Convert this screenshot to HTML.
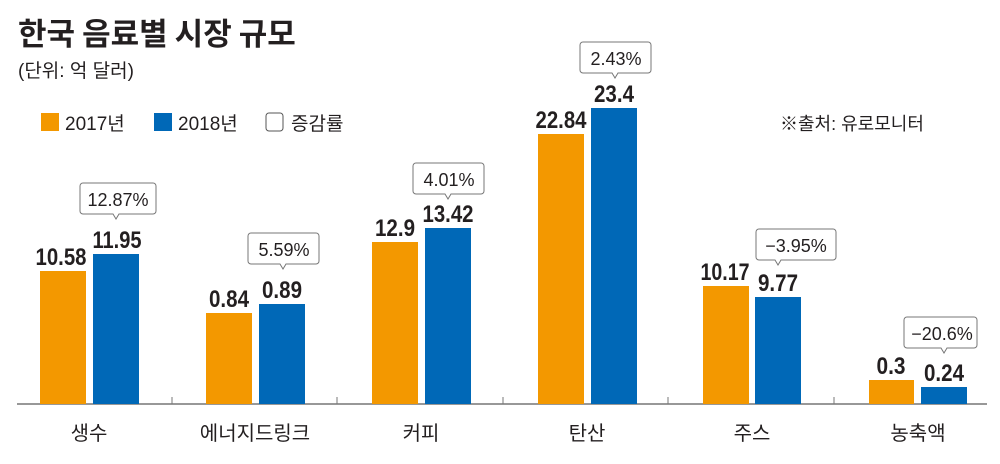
<!DOCTYPE html>
<html><head><meta charset="utf-8"><style>
body{margin:0;background:#fff;}
svg text{font-family:"Liberation Sans","Noto Sans CJK KR",sans-serif;}
.v{font-weight:bold;font-size:24px;fill:#231f20;text-anchor:middle;}
.p{font-size:18px;fill:#231f20;text-anchor:middle;}
.c{font-size:20px;fill:#231f20;text-anchor:middle;}
</style></head><body>
<svg width="1000" height="459" xmlns="http://www.w3.org/2000/svg">
<text x="18" y="45" style="font-size:31px;font-weight:bold;fill:#231f20;font-family:'Noto Sans CJK KR',sans-serif">한국 음료별 시장 규모</text>
<text x="18" y="77" style="font-size:19px;fill:#231f20">(단위: 억 달러)</text>
<rect x="41" y="113" width="18" height="18" fill="#f39800"/>
<text x="65" y="130" style="font-size:19px;fill:#231f20">2017년</text>
<rect x="154" y="113" width="18" height="18" fill="#0068b7"/>
<text x="178" y="130" style="font-size:19px;fill:#231f20">2018년</text>
<rect x="266" y="113" width="17" height="18" rx="3" fill="#fff" stroke="#555" stroke-width="1"/>
<text x="291" y="130" style="font-size:19px;fill:#231f20">증감률</text>
<text x="780" y="130" style="font-size:18px;fill:#231f20">※출처: 유로모니터</text>
<line x1="17" y1="404" x2="987" y2="404" stroke="#777" stroke-width="1.5"/>
<g stroke="#777" stroke-width="1">
<line x1="172" y1="397" x2="172" y2="404"/><line x1="337" y1="397" x2="337" y2="404"/><line x1="503" y1="397" x2="503" y2="404"/><line x1="668" y1="397" x2="668" y2="404"/><line x1="834" y1="397" x2="834" y2="404"/>
</g>
<g>
<rect x="40" y="271" width="46" height="133" fill="#f39800"/><rect x="93" y="254" width="46" height="150" fill="#0068b7"/>
<rect x="206" y="313" width="46" height="91" fill="#f39800"/><rect x="259" y="304" width="46" height="100" fill="#0068b7"/>
<rect x="372" y="242" width="46" height="162" fill="#f39800"/><rect x="425" y="228" width="46" height="176" fill="#0068b7"/>
<rect x="538" y="134" width="46" height="270" fill="#f39800"/><rect x="591" y="108" width="46" height="296" fill="#0068b7"/>
<rect x="703" y="286" width="46" height="118" fill="#f39800"/><rect x="755" y="297" width="46" height="107" fill="#0068b7"/>
<rect x="869" y="380" width="45" height="24" fill="#f39800"/><rect x="921" y="387" width="46" height="17" fill="#0068b7"/>
</g>
<g lengthAdjust="spacingAndGlyphs">
<text class="v" x="61" y="265" textLength="51" lengthAdjust="spacingAndGlyphs">10.58</text><text class="v" x="117" y="248" textLength="49" lengthAdjust="spacingAndGlyphs">11.95</text>
<text class="v" x="229" y="307" textLength="40" lengthAdjust="spacingAndGlyphs">0.84</text><text class="v" x="282" y="298" textLength="40" lengthAdjust="spacingAndGlyphs">0.89</text>
<text class="v" x="395" y="236" textLength="40" lengthAdjust="spacingAndGlyphs">12.9</text><text class="v" x="448" y="222" textLength="51" lengthAdjust="spacingAndGlyphs">13.42</text>
<text class="v" x="561" y="128" textLength="51" lengthAdjust="spacingAndGlyphs">22.84</text><text class="v" x="614" y="102" textLength="40" lengthAdjust="spacingAndGlyphs">23.4</text>
<text class="v" x="725" y="280" textLength="49" lengthAdjust="spacingAndGlyphs">10.17</text><text class="v" x="778" y="291" textLength="40" lengthAdjust="spacingAndGlyphs">9.77</text>
<text class="v" x="891" y="374" textLength="29" lengthAdjust="spacingAndGlyphs">0.3</text><text class="v" x="944" y="381" textLength="40" lengthAdjust="spacingAndGlyphs">0.24</text>
</g>
<g fill="#fff" stroke="#777" stroke-width="1">
<path d="M83,183 h70 a3,3 0 0 1 3,3 v25 a3,3 0 0 1 -3,3 h-34 l-3,5 l-3,-5 h-30 a3,3 0 0 1 -3,-3 v-25 a3,3 0 0 1 3,-3z"/>
<path d="M251,233 h65 a3,3 0 0 1 3,3 v25 a3,3 0 0 1 -3,3 h-30 l-3,5 l-3,-5 h-29 a3,3 0 0 1 -3,-3 v-25 a3,3 0 0 1 3,-3z"/>
<path d="M416,163 h65 a3,3 0 0 1 3,3 v25 a3,3 0 0 1 -3,3 h-30 l-3,5 l-3,-5 h-29 a3,3 0 0 1 -3,-3 v-25 a3,3 0 0 1 3,-3z"/>
<path d="M583,42 h65 a3,3 0 0 1 3,3 v25 a3,3 0 0 1 -3,3 h-30 l-3,5 l-3,-5 h-29 a3,3 0 0 1 -3,-3 v-25 a3,3 0 0 1 3,-3z"/>
<path d="M759,229 h74 a3,3 0 0 1 3,3 v25 a3,3 0 0 1 -3,3 h-52 l-3,5 l-3,-5 h-16 a3,3 0 0 1 -3,-3 v-25 a3,3 0 0 1 3,-3z"/>
<path d="M907,317 h67 a3,3 0 0 1 3,3 v25 a3,3 0 0 1 -3,3 h-27 l-3,5 l-3,-5 h-34 a3,3 0 0 1 -3,-3 v-25 a3,3 0 0 1 3,-3z"/>
</g>
<text class="p" x="118" y="206">12.87%</text>
<text class="p" x="284" y="256">5.59%</text>
<text class="p" x="449" y="186">4.01%</text>
<text class="p" x="616" y="65">2.43%</text>
<text class="p" x="796" y="252">−3.95%</text>
<text class="p" x="942" y="340">−20.6%</text>
<text class="c" x="89" y="440">생수</text>
<text class="c" x="255" y="440">에너지드링크</text>
<text class="c" x="421" y="440">커피</text>
<text class="c" x="587" y="440">탄산</text>
<text class="c" x="752" y="440">주스</text>
<text class="c" x="918" y="440">농축액</text>
</svg>
</body></html>
